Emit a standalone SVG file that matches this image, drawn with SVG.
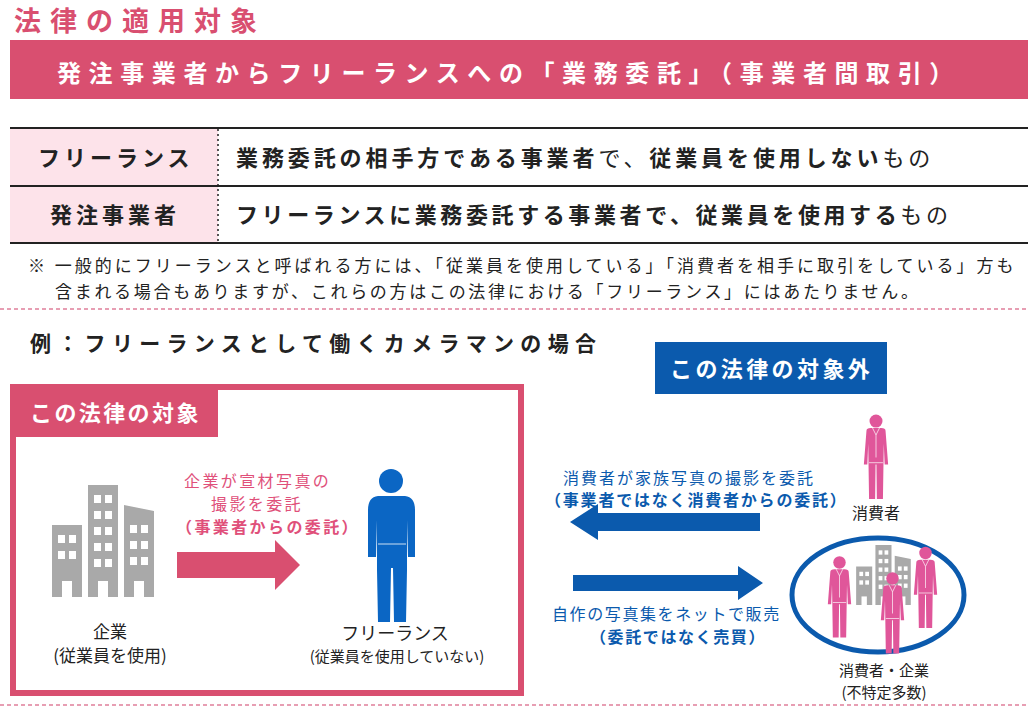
<svg xmlns="http://www.w3.org/2000/svg" width="1028" height="714" viewBox="0 0 1028 714">
<style>
text{font-family:"Noto Sans CJK JP","Noto Sans",sans-serif;}
.b{font-weight:bold}
.w{fill:#fff}
.pk{fill:#d94f70}
.bl{fill:#0b5aad}
.k{fill:#222}
.lb{font-size:16px;letter-spacing:2.4px}
.dash{stroke:#e07f9a;stroke-width:1.5;stroke-dasharray:4 3}
.rule{stroke:#222;stroke-width:2}
</style>
<defs>
<symbol id="suit" viewBox="0 0 30 100">
<circle cx="15" cy="8" r="7.5" fill="#e0569a"/>
<path d="M4 19 Q4 16 9 16 L21 16 Q26 16 26 19 L29 58 L25 58 L24 34 L23 98 L16 98 L15.5 58 L14.5 58 L14 98 L7 98 L6 34 L5 58 L1 58 Z" fill="#e0569a"/>
<path d="M11 16 L15 24 L19 16 M15 24 L15 50 M7 56 L23 56" stroke="#fff" stroke-width="0.8" fill="none"/>
</symbol>
<symbol id="bld" viewBox="0 0 104 112">
<path d="M0 40 H30 V112 H0Z M36 0 H66 V112 H36Z M72 20 L102 26 V112 H72Z" fill="#a9a9a9"/>
<g fill="#fff">
<rect x="6" y="50" width="7" height="8"/><rect x="17" y="50" width="7" height="8"/>
<rect x="6" y="66" width="7" height="8"/><rect x="17" y="66" width="7" height="8"/>
<rect x="42" y="10" width="7" height="8"/><rect x="53" y="10" width="7" height="8"/>
<rect x="42" y="26" width="7" height="8"/><rect x="53" y="26" width="7" height="8"/>
<rect x="42" y="42" width="7" height="8"/><rect x="53" y="42" width="7" height="8"/>
<rect x="42" y="58" width="7" height="8"/><rect x="53" y="58" width="7" height="8"/>
<rect x="42" y="74" width="7" height="8"/><rect x="53" y="74" width="7" height="8"/>
<rect x="78" y="40" width="7" height="8"/><rect x="89" y="40" width="7" height="8"/>
<rect x="78" y="56" width="7" height="8"/><rect x="89" y="56" width="7" height="8"/>
<rect x="78" y="72" width="7" height="8"/><rect x="89" y="72" width="7" height="8"/>
<rect x="10" y="96" width="10" height="16"/><rect x="46" y="96" width="10" height="16"/><rect x="82" y="96" width="10" height="16"/>
</g>
</symbol>
</defs>

<g id="header">
<text x="14" y="31" class="b pk" font-size="27" letter-spacing="9">法律の適用対象</text>
<rect x="10" y="40" width="1018" height="59" fill="#d94f70"/>
<text x="57" y="82" class="b w" font-size="24" letter-spacing="7.6">発注事業者からフリーランスへの「業務委託」（事業者間取引）</text>
</g>

<g id="table">
<rect x="10" y="129" width="208" height="113" fill="#fde3ea"/>
<line x1="10" y1="128" x2="1028" y2="128" class="rule"/>
<line x1="10" y1="186" x2="1028" y2="186" class="rule"/>
<line x1="10" y1="243" x2="1028" y2="243" class="rule"/>
<line x1="218" y1="129" x2="218" y2="242" stroke="#222" stroke-width="1.5" stroke-dasharray="2 3"/>
<text x="38" y="166" class="b k" font-size="22" letter-spacing="4">フリーランス</text>
<text x="50" y="223" class="b k" font-size="22" letter-spacing="4">発注事業者</text>
<text x="236" y="166" class="k" font-size="22" letter-spacing="3.9"><tspan class="b">業務委託の相手方である事業者</tspan>で、<tspan class="b">従業員を使用しない</tspan>もの</text>
<text x="236" y="223" class="k" font-size="22" letter-spacing="3.6"><tspan class="b">フリーランスに業務委託する事業者で、従業員を使用する</tspan>もの</text>
<text x="28" y="272" class="k" font-size="17" letter-spacing="3">※ 一般的にフリーランスと呼ばれる方には、「従業員を使用している」「消費者を相手に取引をしている」方も</text>
<text x="55" y="298" class="k" font-size="17" letter-spacing="2.7">含まれる場合もありますが、これらの方はこの法律における「フリーランス」にはあたりません。</text>
<line x1="0" y1="309" x2="1028" y2="309" class="dash"/>
</g>

<g id="example">
<text x="30" y="351" class="b k" font-size="21" letter-spacing="6.3">例：フリーランスとして働くカメラマンの場合</text>
</g>

<g id="target">
<rect x="13" y="387" width="508" height="306" fill="none" stroke="#d94f70" stroke-width="6"/>
<rect x="10" y="385" width="208" height="52" fill="#d94f70"/>
<text x="30" y="421" class="b w" font-size="22" letter-spacing="2.4">この法律の対象</text>
</g>

<g id="company">
<use href="#bld" x="52" y="485" width="104" height="112"/>
<text x="110" y="638" class="k" font-size="17" text-anchor="middle">企業</text>
<text x="110" y="662" class="k" font-size="17" text-anchor="middle">(従業員を使用)</text>
</g>

<g id="freelance">
<circle cx="391" cy="481" r="12" fill="#0b66c4"/>
<path d="M378 496 Q368 497 368 510 L368 557 L376 557 L377 520 L377 570 L378 622 L390 622 L391 568 L393 568 L394 622 L406 622 L407 570 L407 520 L408 557 L415 557 L415 510 Q415 497 405 496 Z" fill="#0b66c4"/>
<line x1="378" y1="544" x2="406" y2="544" stroke="#fff" stroke-width="0.8"/>
<text x="395" y="640" class="k" font-size="18" text-anchor="middle">フリーランス</text>
<text x="397" y="662" class="k" font-size="15" text-anchor="middle">(従業員を使用していない)</text>
</g>

<g id="outside">
<rect x="655" y="342" width="232" height="52" fill="#0b5aad"/>
<text x="670" y="377" class="b w" font-size="22" letter-spacing="3.4">この法律の対象外</text>
</g>

<g id="consumer">
<use href="#suit" x="863" y="414" width="26" height="87"/>
<text x="876" y="519" class="k" font-size="16" text-anchor="middle">消費者</text>
</g>

<g id="market">
<use href="#bld" x="856" y="545" width="56" height="60"/>
<ellipse cx="878" cy="595" rx="86" ry="57" fill="none" stroke="#0b5aad" stroke-width="5"/>
<use href="#suit" x="827" y="554" width="25" height="87"/>
<use href="#suit" x="880" y="571" width="25" height="85"/>
<use href="#suit" x="913" y="545" width="25" height="86"/>
<text x="884" y="676" class="k" font-size="15" text-anchor="middle">消費者・企業</text>
<text x="884" y="698" class="k" font-size="15" text-anchor="middle">(不特定多数)</text>
</g>

<g id="connectors">
<path d="M177 552 H275 V540 L300 565 L275 590 V578 H177 Z" fill="#d94f70"/>
<path d="M760 513 H598 V504 L570 522 L598 540 V531 H760 Z" fill="#0b5aad"/>
<path d="M573 575 H738 V566 L763 583 L738 600 V591 H573 Z" fill="#0b5aad"/>
</g>

<g id="labels">
<text x="184" y="487" fill="#e0507a" class="lb">企業が宣材写真の</text>
<text x="211" y="510" fill="#e0507a" class="lb">撮影を委託</text>
<text x="176" y="533" fill="#e0507a" class="b lb" letter-spacing="0.8">（事業者からの委託）</text>
<text x="563" y="484" class="bl" font-size="16" letter-spacing="2">消費者が家族写真の撮影を委託</text>
<text x="545" y="506" class="bl b" font-size="16" letter-spacing="1.8">（事業者ではなく消費者からの委託）</text>
<text x="552" y="620" class="bl" font-size="16" letter-spacing="1.6">自作の写真集をネットで販売</text>
<text x="590" y="643" class="bl b" font-size="16" letter-spacing="1.6">（委託ではなく売買）</text>
</g>
<line x1="0" y1="705" x2="1028" y2="705" class="dash"/>
</svg>
